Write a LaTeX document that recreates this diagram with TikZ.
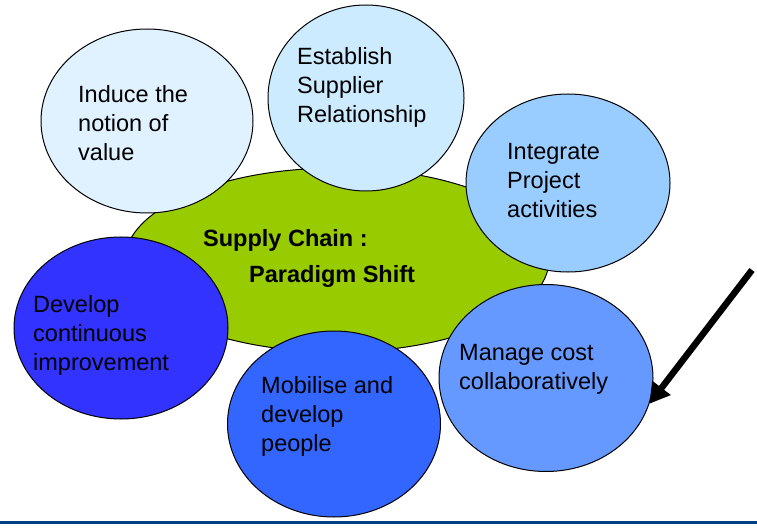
\documentclass[tikz,border=0pt]{standalone}
\usepackage{fontspec}
\setmainfont{Liberation Sans}
\usetikzlibrary{shapes.geometric,arrows.meta}
\definecolor{coregreen}{HTML}{99CC00}
\definecolor{valueblue}{HTML}{E0F2FF}
\definecolor{supplierblue}{HTML}{CCEBFF}
\definecolor{projectblue}{HTML}{99CCFF}
\definecolor{improveblue}{HTML}{3333FF}
\definecolor{peopleblue}{HTML}{3366FF}
\definecolor{costblue}{HTML}{6699FF}
\definecolor{ruleblue}{HTML}{00427F}
\tikzset{
  bubble/.style={ellipse, draw=black, line width=1pt, inner sep=0pt},
  bubbletext/.style={anchor=base west, align=left, inner sep=0pt, font=\fontsize{23.5}{29}\selectfont},
}

\begin{document}
\begin{tikzpicture}[x=1pt,y=-1pt]
  \useasboundingbox (0,0) rectangle (757,529);
  % core ellipse
  \node[bubble, fill=coregreen, minimum width=424pt, minimum height=184pt] (core) at (337,260) {};
  \node[bubbletext, font=\bfseries\fontsize{23.5}{29}\selectfont] (core-text) at (203,283)
    {Supply Chain :\\[7pt]\hspace*{46pt}Paradigm Shift};
  % bubbles round it
  \foreach \n/\x/\y/\w/\h/\c in {value/147/121/212/184/valueblue,
      supplier/366/98/196/186/supplierblue, project/568/183/204/178/projectblue,
      improve/121/328/214/182/improveblue, people/334/424/213/186/peopleblue,
      cost/546/378/214/187/costblue} {
    \node[bubble, fill=\c, minimum width=\w pt, minimum height=\h pt] (\n) at (\x,\y) {};
  }
  % bubble texts (placed at the baseline of their last line)
  \foreach \n/\x/\y/\t in {value/78/161/{Induce the\\notion of\\value},
      supplier/297/123/{Establish\\Supplier\\Relationship},
      project/507/218/{Integrate\\Project\\activities},
      improve/33/370/{Develop\\continuous\\improvement},
      people/261/451/{Mobilise and\\develop\\people},
      cost/459/389/{Manage cost\\collaboratively}} {
    \node[bubbletext] (\n-text) at (\x,\y) {\t};
  }
  % pointer
  \coordinate (pointer-start) at (752,270);
  \draw[line width=6.5pt, -{Triangle[length=20pt,width=22pt]}] (pointer-start) -- (cost.-14);
  % bottom rule
  \draw[ruleblue, line width=3pt] (0,522.5) -- (757,522.5);
\end{tikzpicture}
\end{document}
